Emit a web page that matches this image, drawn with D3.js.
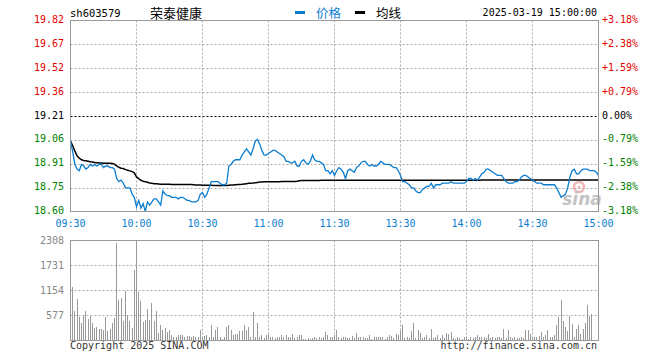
<!DOCTYPE html>
<html><head><meta charset="utf-8">
<script src="https://cdn.jsdelivr.net/npm/d3@7"></script>
<style>body{margin:0;background:#fff}svg{display:block}</style>
</head><body><svg id="c" width="660" height="360"></svg>
<script>
const symbol = "sh603579";
const stockName = "荣泰健康";
const legendNames = ["价格", "均线"];
const stamp = "2025-03-19 15:00:00";
const timeLabels = ["09:30","10:00","10:30","11:00","11:30","13:30","14:00","14:30","15:00"];
const timeIndex = [0,30,60,90,120,150,180,210,240];
const priceLabels = ["19.82","19.67","19.52","19.36","19.21","19.06","18.91","18.75","18.60"];
const pctLabels = ["+3.18%","+2.38%","+1.59%","+0.79%","0.00%","-0.79%","-1.59%","-2.38%","-3.18%"];
const volLabels = ["2308","1731","1154","577"];
const volTicks = [2308,1731,1154,577];
const priceTop = 19.821, priceBottom = 18.599, volMax = 2308;
const copyLeft = "Copyright 2025 SINA.COM";
const copyRight = "http://finance.sina.com.cn";

const prices = [
19.05,18.98,18.90,18.87,18.86,18.90,18.89,18.87,18.88,18.90,
18.89,18.90,18.89,18.90,18.90,18.88,18.89,18.89,18.88,18.88,
18.87,18.81,18.79,18.80,18.78,18.75,18.75,18.75,18.71,18.69,
18.63,18.67,18.62,18.65,18.60,18.66,18.64,18.66,18.68,18.68,
18.66,18.64,18.73,18.71,18.70,18.70,18.69,18.69,18.69,18.68,
18.69,18.69,18.68,18.67,18.67,18.66,18.66,18.66,18.67,18.71,
18.72,18.69,18.71,18.75,18.79,18.79,18.79,18.79,18.78,18.77,
18.77,18.78,18.89,18.90,18.92,18.93,18.93,18.93,18.96,18.98,
19.00,18.98,18.96,19.00,19.05,19.06,19.03,18.99,18.96,18.96,
18.97,18.98,18.99,18.99,18.98,18.97,18.96,18.95,18.92,18.92,
18.91,18.91,18.92,18.89,18.89,18.92,18.93,18.91,18.90,18.92,
18.96,18.93,18.92,18.92,18.91,18.90,18.86,18.86,18.84,18.86,
18.83,
18.86,18.88,18.87,18.85,18.81,18.86,18.87,18.86,18.85,18.88,
18.89,18.91,18.92,18.92,18.90,18.89,18.90,18.89,18.89,18.90,
18.92,18.91,18.90,18.90,18.90,18.89,18.88,18.88,18.86,18.83,
18.79,18.79,18.78,18.77,18.75,18.75,18.73,18.72,18.72,18.74,
18.75,18.76,18.76,18.78,18.75,18.77,18.77,18.77,18.78,18.78,
18.78,18.78,18.79,18.78,18.78,18.78,18.78,18.78,18.78,18.79,
18.81,18.81,18.80,18.81,18.80,18.82,18.84,18.85,18.87,18.87,
18.86,18.85,18.84,18.83,18.83,18.83,18.81,18.79,18.78,18.78,
18.78,18.79,18.79,18.80,18.82,18.83,18.83,18.82,18.81,18.80,
18.79,18.78,18.78,18.78,18.77,18.77,18.77,18.77,18.77,18.77,
18.75,18.72,18.69,18.70,18.71,18.75,18.82,18.86,18.87,18.84,
18.84,18.86,18.87,18.87,18.87,18.86,18.86,18.86,18.85,18.83
];

const avgPrices = [
19.050,19.020,18.985,18.955,18.940,18.930,18.925,18.923,18.921,18.917,
18.915,18.912,18.911,18.910,18.909,18.908,18.908,18.907,18.907,18.906,
18.902,18.891,18.882,18.876,18.874,18.867,18.863,18.859,18.854,18.846,
18.820,18.809,18.799,18.792,18.790,18.786,18.781,18.779,18.777,18.776,
18.775,18.774,18.773,18.773,18.773,18.773,18.772,18.772,18.772,18.772,
18.772,18.771,18.771,18.771,18.771,18.771,18.770,18.768,18.768,18.768,
18.767,18.767,18.767,18.767,18.767,18.766,18.766,18.766,18.766,18.766,
18.766,18.766,18.767,18.768,18.769,18.770,18.771,18.772,18.773,18.775,
18.777,18.779,18.780,18.781,18.783,18.785,18.787,18.788,18.789,18.789,
18.789,18.790,18.790,18.790,18.790,18.790,18.791,18.791,18.791,18.791,
18.791,18.791,18.791,18.792,18.796,18.797,18.797,18.797,18.798,18.798,
18.798,18.798,18.798,18.798,18.799,18.799,18.799,18.799,18.799,18.799,
18.799,
18.799,18.799,18.799,18.799,18.799,18.799,18.799,18.799,18.799,18.799,
18.799,18.799,18.799,18.799,18.799,18.799,18.799,18.799,18.799,18.799,
18.799,18.799,18.799,18.799,18.799,18.799,18.799,18.799,18.799,18.799,
18.799,18.799,18.799,18.799,18.799,18.799,18.799,18.799,18.799,18.799,
18.799,18.799,18.799,18.799,18.799,18.799,18.799,18.799,18.799,18.799,
18.799,18.799,18.799,18.799,18.799,18.799,18.799,18.799,18.799,18.799,
18.799,18.799,18.799,18.799,18.799,18.799,18.800,18.800,18.800,18.800,
18.800,18.800,18.800,18.800,18.800,18.800,18.800,18.800,18.800,18.800,
18.800,18.800,18.800,18.800,18.800,18.800,18.800,18.800,18.800,18.800,
18.800,18.800,18.800,18.800,18.800,18.800,18.800,18.800,18.800,18.800,
18.800,18.800,18.800,18.800,18.800,18.800,18.800,18.800,18.800,18.800,
18.800,18.800,18.800,18.800,18.800,18.800,18.800,18.800,18.800,18.800
];

const volumes = [
284,1231,692,969,538,400,569,692,500,569,
400,284,308,254,254,250,538,215,254,415,
523,2246,938,985,461,1154,600,461,284,1616,
2308,1115,907,423,477,723,477,877,446,692,
169,361,246,277,192,246,138,77,77,123,
138,123,77,115,115,77,115,77,92,231,
92,115,138,92,369,92,231,316,92,31,
77,308,354,231,138,154,154,215,215,354,
231,308,92,654,92,415,92,123,61,123,
138,77,92,61,92,92,123,92,138,77,
92,154,61,92,138,138,46,31,61,46,
61,77,61,92,61,92,192,123,92,77,
123,
231,77,61,92,92,61,61,115,61,169,
92,92,77,61,61,123,38,77,92,92,
92,77,38,92,138,115,61,154,138,215,
369,61,92,61,215,415,61,246,169,61,
77,123,61,254,61,77,123,61,123,61,
169,154,192,61,31,77,61,31,92,92,
38,77,61,92,138,77,77,92,61,154,
61,92,61,77,77,61,254,61,246,92,
61,77,61,61,77,61,231,231,154,61,
77,92,115,192,92,138,231,92,92,138,
369,538,938,461,308,215,554,385,92,254,
354,154,254,408,808,554,615,0,0,0
];

const svg = d3.select("#c");
const L = 70.5, R = 598.5, PT = 20.5, PB = 211.5, VT = 240.5, VB = 340.5;
const mono = "'DejaVu Sans Mono', 'Liberation Mono', monospace";
const cjk = "'Noto Sans CJK SC', sans-serif";
const blue = "#0b7dd0";
const red = "#e60000", green = "#008000";

const x = d3.scaleLinear().domain([0, 240]).range([L, R]);
const y = d3.scaleLinear().domain([priceBottom, priceTop]).range([PB, PT]);
const yv = d3.scaleLinear().domain([0, volMax]).range([VB, VT]);

svg.append("rect").attr("width", 660).attr("height", 360).attr("fill", "#fff");

const levels = priceLabels.map((_, k) => priceTop - k * (priceTop - priceBottom) / 8);

const g = svg.append("g");
levels.forEach((v, k) => {
  if (k === 0 || k === 8) return;
  const yy = Math.round(y(v)) + 0.5;
  g.append("line").attr("x1", L).attr("x2", R).attr("y1", yy).attr("y2", yy)
    .attr("stroke", k === 4 ? "#000" : "#aaa").attr("stroke-dasharray", "2,2");
});
timeIndex.forEach((t, k) => {
  if (k === 0 || k === 8) return;
  const xx = Math.round(x(t) - 0.5) + 0.5;
  g.append("line").attr("x1", xx).attr("x2", xx).attr("y1", PT).attr("y2", PB)
    .attr("stroke", "#aaa").attr("stroke-dasharray", "2,2");
  g.append("line").attr("x1", xx).attr("x2", xx).attr("y1", VT).attr("y2", VB)
    .attr("stroke", "#aaa").attr("stroke-dasharray", "2,2");
});
volTicks.slice(1).forEach(v => {
  const yy = Math.round(yv(v) - 0.5) + 0.5;
  g.append("line").attr("x1", L).attr("x2", R).attr("y1", yy).attr("y2", yy)
    .attr("stroke", "#aaa").attr("stroke-dasharray", "2,2");
});

// sina watermark
const wm = svg.append("g").attr("opacity", 0.75);
wm.append("circle").attr("cx", 579).attr("cy", 187).attr("r", 5).attr("fill", "none")
  .attr("stroke", "#f0a0a0").attr("stroke-width", 2.5);
wm.append("circle").attr("cx", 579).attr("cy", 187).attr("r", 1.5).attr("fill", "#f0a0a0");
wm.append("text").attr("x", 582).attr("y", 205).attr("text-anchor", "middle")
  .attr("font-family", "'DejaVu Sans', sans-serif").attr("font-weight", "bold")
  .attr("font-style", "italic").attr("font-size", 17).attr("fill", "#b0b0b0").text("sina");

// volume bars
svg.append("g").selectAll("rect").data(volumes).join("rect")
  .attr("x", (d, i) => Math.round(x(i) - 0.5))
  .attr("width", 1)
  .attr("y", d => Math.round(yv(d)))
  .attr("height", d => Math.max(0, VB - 0.5 - Math.round(yv(d))))
  .attr("fill", "#999")
  .attr("shape-rendering", "crispEdges");

const line = d3.line().x((d, i) => x(i)).y(d => y(d));
svg.append("path").datum(avgPrices).attr("d", line).attr("fill", "none")
  .attr("stroke", "#000").attr("stroke-width", 1.5);
svg.append("path").datum(prices).attr("d", line).attr("fill", "none")
  .attr("stroke", blue).attr("stroke-width", 1.3);

svg.append("rect").attr("x", L).attr("y", PT).attr("width", R - L).attr("height", PB - PT)
  .attr("fill", "none").attr("stroke", "#999");
svg.append("rect").attr("x", L).attr("y", VT).attr("width", R - L).attr("height", VB - VT)
  .attr("fill", "none").attr("stroke", "#999");

levels.forEach((v, k) => {
  const col = k < 4 ? red : (k === 4 ? "#000" : green);
  svg.append("text").attr("x", 64).attr("y", y(v) - 1).attr("dy", "0.35em")
    .attr("text-anchor", "end").attr("font-family", mono).attr("font-size", 10)
    .attr("fill", col).text(priceLabels[k]);
  svg.append("text").attr("x", 602).attr("y", y(v) - 1).attr("dy", "0.35em")
    .attr("text-anchor", "start").attr("font-family", mono).attr("font-size", 10)
    .attr("fill", col).text(pctLabels[k]);
});

volTicks.forEach((v, k) => {
  svg.append("text").attr("x", 64).attr("y", yv(v)).attr("dy", "0.35em")
    .attr("text-anchor", "end").attr("font-family", mono).attr("font-size", 10)
    .attr("fill", "#888").text(volLabels[k]);
});

timeIndex.forEach((t, k) => {
  svg.append("text").attr("x", x(t)).attr("y", 227).attr("text-anchor", "middle")
    .attr("font-family", mono).attr("font-size", 10).attr("fill", blue).text(timeLabels[k]);
});

svg.append("text").attr("x", 70).attr("y", 17).attr("font-family", mono).attr("font-size", 10.5)
  .attr("fill", "#000").text(symbol);
svg.append("text").attr("x", 150).attr("y", 18).attr("font-family", cjk).attr("font-size", 13)
  .attr("fill", "#000").text(stockName);
svg.append("rect").attr("x", 295).attr("y", 11).attr("width", 10).attr("height", 3).attr("fill", blue);
svg.append("text").attr("x", 316).attr("y", 18).attr("font-family", cjk).attr("font-size", 12.5)
  .attr("fill", blue).text(legendNames[0]);
svg.append("rect").attr("x", 355).attr("y", 11).attr("width", 10).attr("height", 3).attr("fill", "#000");
svg.append("text").attr("x", 376).attr("y", 18).attr("font-family", cjk).attr("font-size", 12.5)
  .attr("fill", "#000").text(legendNames[1]);
svg.append("text").attr("x", 597).attr("y", 16).attr("text-anchor", "end").attr("font-family", mono)
  .attr("font-size", 10).attr("fill", "#000").text(stamp);

svg.append("text").attr("x", 70).attr("y", 349).attr("font-family", mono).attr("font-size", 10)
  .attr("fill", "#333").text(copyLeft);
svg.append("text").attr("x", 597).attr("y", 349).attr("text-anchor", "end").attr("font-family", mono)
  .attr("font-size", 10).attr("fill", "#333").text(copyRight);
</script></body></html>
